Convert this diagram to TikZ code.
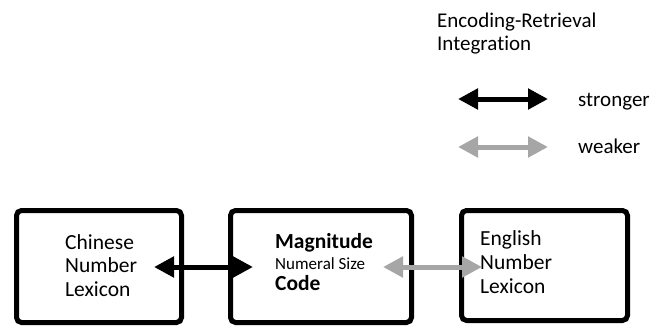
\documentclass[tikz,border=0pt]{standalone}
\usepackage{fontspec}
\setmainfont{Carlito}[Ligatures=NoCommon]
\usetikzlibrary{arrows.meta}
\definecolor{weakgrey}{HTML}{A6A6A6}
\begin{document}
\begin{tikzpicture}[x=1pt,y=-1pt,
  box/.style={draw=black,line width=5pt,rounded corners=5pt},
  boxtext/.style={anchor=base west,inner sep=0pt,align=left,font=\fontsize{21.5}{23.5}\selectfont},
  legtext/.style={anchor=base west,inner sep=0pt,align=left,font=\fontsize{21}{23}\selectfont},
  dbl/.style={line width=5pt,{Triangle[length=20pt,width=20pt]}-{Triangle[length=20pt,width=20pt]}},
  strong/.style={dbl,draw=black},
  weak/.style={dbl,draw=weakgrey}]
\useasboundingbox (0,0) rectangle (651,327);
% boxes
\draw[box] (16.5,210.5) rectangle (181.5,322.5);
\draw[box] (230.5,210.5) rectangle (411.5,322.5);
\draw[box] (461.5,210.5) rectangle (627.5,320.5);
% box texts (anchored at the baseline of the last line)
\node[boxtext] (chn) at (65,296) {Chinese\\Number\\Lexicon};
\node[boxtext,font=\fontsize{21.5}{21}\selectfont] (mag) at (275,290) {\textbf{Magnitude}\\{\fontsize{17}{21}\selectfont Numeral Size}\\\textbf{Code}};
\node[boxtext,font=\fontsize{21.5}{24}\selectfont] (eng) at (480,293) {English\\Number\\Lexicon};
% arrow endpoints
\coordinate (a1) at (154,267);
\coordinate (a2) at (253,267);
\coordinate (b1) at (383,267);
\coordinate (b2) at (482,267);
\draw[strong] (a1) -- (a2);
\draw[weak] (b1) -- (b2);
% legend
\node[legtext] (title) at (437,50) {Encoding-Retrieval\\Integration};
\coordinate (l1) at (458,99);
\coordinate (l2) at (548,99);
\coordinate (l3) at (458,147);
\coordinate (l4) at (548,147);
\draw[strong] (l1) -- (l2);
\draw[weak] (l3) -- (l4);
\node[legtext] (str) at (578,106) {stronger};
\node[legtext] (wk) at (578,153) {weaker};
\end{tikzpicture}
\end{document}
